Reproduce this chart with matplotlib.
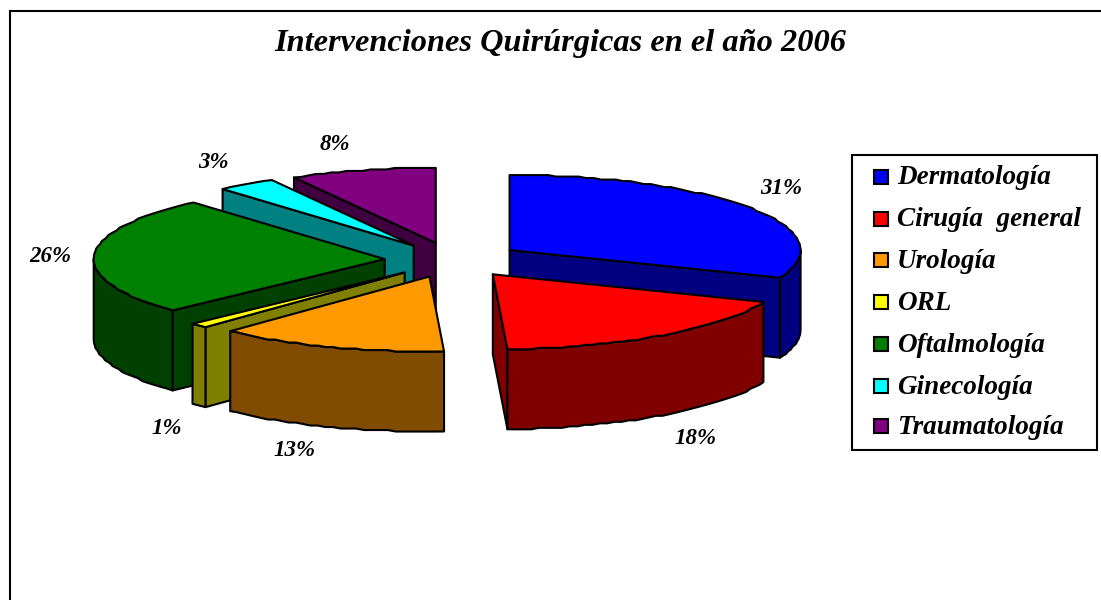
import numpy as np
import matplotlib
matplotlib.use('Agg')
import matplotlib.pyplot as plt
from matplotlib.patches import Polygon, Rectangle

plt.rcParams['font.family'] = ['Liberation Serif', 'DejaVu Serif']

###########################################
####   DATA   #############################
###########################################

title = 'Intervenciones Quirúrgicas en el año 2006'
categories = ['Dermatología', 'Cirugía  general', 'Urología', 'ORL',
              'Oftalmología', 'Ginecología', 'Traumatología']
# estimated from the slice edges, they round to the printed labels
percents = [31.0, 18.2, 12.8, 1.0, 25.6, 3.3, 8.1]

top_colors = ['#0000FF', '#FF0000', '#FF9900', '#FFFF00', '#008000', '#00FFFF', '#800080']
side_colors = ['#000080', '#800000', '#804C00', '#808000', '#004000', '#008080', '#400040']

###########################################
####   LAYOUT   ###########################
###########################################

# everything is in pixels of the 1101x600 picture
center = (453, 260)
rad_x, rad_y = 291, 75
depth = 80
explode = 0.235
edge_w = 1.5

# drawn back to front
draw_order = [6, 5, 4, 3, 2, 0, 1]
label_xy = [(781, 189), (695, 438), (294, 450), (167, 428), (50, 257), (213, 162), (335, 145)]
legend_ys = [177, 219, 260, 302, 344, 386, 426]

fig = plt.figure(figsize=(11.01, 6.0), dpi=100)
ax = fig.add_axes([0, 0, 1, 1])
ax.set_xlim(0, 1101)
ax.set_ylim(600, 0)
ax.axis('off')


def ell(angle):
	# angle in degrees, clockwise from 12 o'clock
	a = np.radians(angle)
	return np.sin(a) * rad_x, -np.cos(a) * rad_y


def arc(a0, a1, cx, cy):
	# slight steps, the original has a bumpy low-res edge
	ang = np.linspace(a0, a1, max(int((a1 - a0) / 1.5), 2))
	x, y = ell(ang)
	bumpy = np.round(y / 1.5) * 1.5
	bumpy[0], bumpy[-1] = y[0], y[-1]
	return x + cx, bumpy + cy


def face(pts, color, z):
	ax.add_patch(Polygon(pts, closed=True, facecolor=color, edgecolor='black',
	                     linewidth=edge_w, joinstyle='round', zorder=z))


# Slice angles come straight from the percentages
fracs = np.array(percents) / sum(percents) * 360.0
starts = np.concatenate([[0], np.cumsum(fracs)[:-1]])
ends = starts + fracs

ax.add_patch(Rectangle((10, 11), 1200, 700, facecolor='white', edgecolor='black',
                       linewidth=edge_w, zorder=0))

for z, i in enumerate(draw_order):
	a0, a1 = starts[i], ends[i]
	mid = (a0 + a1) / 2.0
	dx, dy = ell(mid)
	cx = center[0] + explode * dx
	cy = center[1] + explode * dy

	ox, oy = arc(a0, a1, cx, cy)
	zb = 10 + z * 5

	# cut faces that look toward the viewer
	if np.sin(np.radians(a0)) < 0:
		face([(cx, cy), (ox[0], oy[0]), (ox[0], oy[0] + depth), (cx, cy + depth)], side_colors[i], zb)
	if np.sin(np.radians(a1)) > 0:
		face([(cx, cy), (ox[-1], oy[-1]), (ox[-1], oy[-1] + depth), (cx, cy + depth)], side_colors[i], zb)

	# outer wall, front half of the ellipse only
	lo, hi = max(a0, 90), min(a1, 270)
	if hi > lo:
		wx, wy = arc(lo, hi, cx, cy)
		pts = list(zip(wx, wy)) + list(zip(wx[::-1], wy[::-1] + depth))
		face(pts, side_colors[i], zb + 1)

	# top
	face([(cx, cy)] + list(zip(ox, oy)), top_colors[i], zb + 2)

# Percentage labels
for p, (x, y) in zip(percents, label_xy):
	ax.text(x, y, '%d%%' % round(p), fontsize=16.5, fontweight='bold', fontstyle='italic',
	        ha='center', va='center', zorder=100)

ax.text(560, 43, title, fontsize=23.3, fontweight='bold', fontstyle='italic',
        ha='center', va='center', zorder=100)

# Legend
ax.add_patch(Rectangle((852, 155), 245, 295, facecolor='white', edgecolor='black',
                       linewidth=edge_w, zorder=90))
for name, col, y in zip(categories, top_colors, legend_ys):
	ax.add_patch(Rectangle((874, y - 7), 14, 14, facecolor=col, edgecolor='black',
	                       linewidth=edge_w, zorder=91))
	ax.text(897, y + 1, name, fontsize=19.5, fontweight='bold', fontstyle='italic',
	        ha='left', va='center', zorder=100)

fig.savefig('out.png', dpi=100)
